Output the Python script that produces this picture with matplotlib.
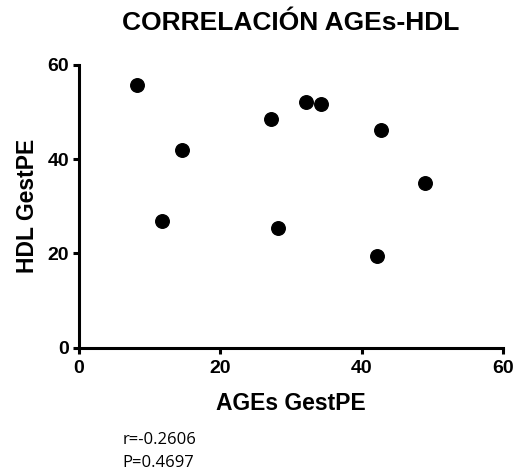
import matplotlib.pyplot as plt

plt.rcParams['font.family'] = ['Liberation Sans', 'DejaVu Sans']

# AGEs vs HDL values
ages = [8.2, 14.6, 11.7, 27.2, 28.2, 32.1, 34.2, 42.8, 42.2, 49.0]
hdl = [55.8, 41.9, 26.9, 48.5, 25.3, 52.2, 51.7, 46.2, 19.5, 34.9]
ticks = [0, 20, 40, 60]
r_text = "r=-0.2606"
p_text = "P=0.4697"

fig = plt.figure(figsize=(5.15, 4.71), dpi=100)
ax = fig.add_axes([0.1534, 0.2618, 0.8233, 0.6002])

ax.scatter(ages, hdl, s=95, color='black', zorder=3, clip_on=False)

ax.set_xlim(0, 60)
ax.set_ylim(0, 60)
ax.set_xticks(ticks)
ax.set_yticks(ticks)
for side in ('top', 'right'):
    ax.spines[side].set_visible(False)
for side in ('left', 'bottom'):
    ax.spines[side].set_linewidth(2.2)
ax.tick_params(width=2.2, length=4, labelsize=14)
ax.tick_params(axis='x', pad=5)
ax.tick_params(axis='y', pad=3)
for lab in ax.get_xticklabels() + ax.get_yticklabels():
    lab.set_fontweight('bold')

ax.set_xlabel("AGEs GestPE", fontsize=16.5, fontweight='bold', labelpad=11)
ax.set_ylabel("HDL GestPE", fontsize=16.5, fontweight='bold', labelpad=6)
ax.set_title("CORRELACIÓN AGEs-HDL", fontsize=19, fontweight='bold', pad=25)

fig.text(0.238, 0.066, r_text, fontsize=12, family=['Open Sans', 'DejaVu Sans'],
         va='center')
fig.text(0.238, 0.017, p_text, fontsize=12, family=['Open Sans', 'DejaVu Sans'],
         va='center')

fig.savefig("out.png", dpi=100)
